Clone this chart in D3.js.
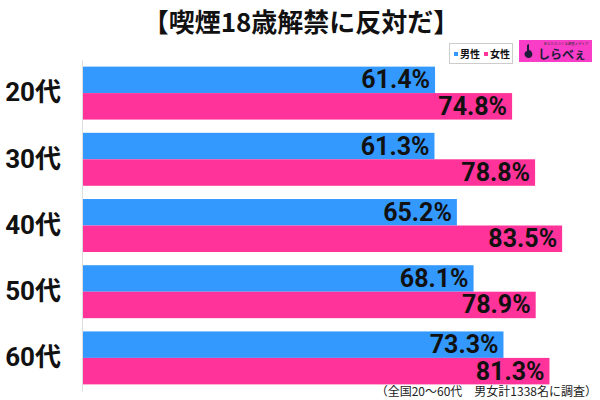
<!DOCTYPE html>
<html>
<head>
<meta charset="utf-8">
<script src="https://cdn.jsdelivr.net/npm/d3@7"></script>
<style>
  body { margin: 0; background: #fff; }
  svg { display: block; }
</style>
</head>
<body>
<svg id="chart" width="600" height="400"></svg>
<script>
// Data
const categories = ['20代', '30代', '40代', '50代', '60代'];
const seriesNames = ['男性', '女性'];
const maleValues = [61.4, 61.3, 65.2, 68.1, 73.3];
const femaleValues = [74.8, 78.8, 83.5, 78.9, 81.3];
const titleText = '【喫煙18歳解禁に反対だ】';
const noteText = '（全国20～60代　男女計1338名に調査）';

const colors = { '男性': '#3399ff', '女性': '#ff3399' };
const jpFont = '"Noto Sans CJK JP", sans-serif';

const rows = categories.map((c, i) => ({
  category: c,
  values: [
    { series: '男性', value: maleValues[i] },
    { series: '女性', value: femaleValues[i] }
  ]
}));

const svg = d3.select('#chart');

// Scales
const xScale = d3.scaleLinear()
  .domain([0, 100])
  .range([82, 657]);

const yScale = d3.scaleBand()
  .domain(categories)
  .range([60, 391])
  .paddingInner(0.2)
  .paddingOuter(0.1);

const innerScale = d3.scaleBand()
  .domain(seriesNames)
  .range([0, yScale.bandwidth()]);

// Title
svg.append('text')
  .attr('x', 301)
  .attr('y', 32)
  .attr('text-anchor', 'middle')
  .style('font-family', jpFont)
  .style('font-weight', 'bold')
  .style('font-size', '26px')
  .attr('fill', '#111')
  .text(titleText);

// Bars
const groups = svg.selectAll('.group')
  .data(rows)
  .enter()
  .append('g')
  .attr('class', 'group')
  .attr('transform', d => `translate(0, ${yScale(d.category)})`);

groups.selectAll('rect')
  .data(d => d.values)
  .enter()
  .append('rect')
  .attr('x', xScale(0))
  .attr('y', d => innerScale(d.series))
  .attr('width', d => xScale(d.value) - xScale(0))
  .attr('height', innerScale.bandwidth())
  .attr('fill', d => colors[d.series]);

groups.selectAll('.value-label')
  .data(d => d.values)
  .enter()
  .append('text')
  .attr('class', 'value-label')
  .attr('x', d => xScale(d.value) - 5)
  .attr('y', d => innerScale(d.series) + innerScale.bandwidth() / 2)
  .attr('dy', '0.34em')
  .attr('text-anchor', 'end')
  .style('font-family', 'Roboto, sans-serif')
  .style('font-weight', 'bold')
  .style('font-size', '25px')
  .attr('fill', '#111')
  .text(d => d.value.toFixed(1) + '%');

// Y axis
const yAxis = svg.append('g')
  .attr('transform', `translate(${xScale(0)}, 0)`)
  .call(d3.axisLeft(yScale).tickSize(0).tickPadding(21).tickSizeOuter(0));

yAxis.select('.domain')
  .attr('stroke', '#ddd')
  .attr('stroke-width', 1);

yAxis.selectAll('text')
  .style('font-family', 'Roboto, "Noto Sans CJK JP", sans-serif')
  .style('font-weight', 'bold')
  .style('font-size', '26px')
  .attr('fill', '#111');

// Legend
const legend = svg.append('g');
legend.append('rect')
  .attr('x', 449.5).attr('y', 43.5)
  .attr('width', 63).attr('height', 20)
  .attr('fill', '#fff').attr('stroke', '#ccc');

const legendItems = legend.selectAll('.legend-item')
  .data(seriesNames)
  .enter()
  .append('g')
  .attr('class', 'legend-item')
  .attr('transform', (d, i) => `translate(${454 + i * 30}, 54)`);

legendItems.append('rect')
  .attr('x', 0).attr('y', -2)
  .attr('width', 4).attr('height', 4)
  .attr('fill', d => colors[d]);

legendItems.append('text')
  .attr('x', 6)
  .attr('dy', '0.36em')
  .style('font-family', jpFont)
  .style('font-weight', 'bold')
  .style('font-size', '10px')
  .attr('fill', '#111')
  .text(d => d);

// Logo
const logo = svg.append('g');
logo.append('rect')
  .attr('x', 519).attr('y', 40)
  .attr('width', 73).attr('height', 22)
  .attr('fill', '#f93dc6');
logo.append('text')
  .attr('x', 566).attr('y', 45)
  .attr('text-anchor', 'middle')
  .style('font-family', jpFont)
  .style('font-size', '3.5px')
  .attr('fill', '#333')
  .text('あなたとつくる調査メディア');
logo.append('path')
  .attr('d', 'M527,45 L529,44 L529,50 C533,51 534,57 529,58 C524,58 523,52 527,51 Z')
  .attr('fill', '#1b1b3a');
logo.append('text')
  .attr('x', 538).attr('y', 59)
  .style('font-family', jpFont)
  .style('font-weight', 'bold')
  .style('font-size', '12px')
  .attr('fill', '#1b1b3a')
  .text('しらべぇ');

// Footnote
svg.append('text')
  .attr('x', 597)
  .attr('y', 396)
  .attr('text-anchor', 'end')
  .style('font-family', jpFont)
  .style('font-size', '12px')
  .attr('fill', '#222')
  .text(noteText);
</script>
</body>
</html>
